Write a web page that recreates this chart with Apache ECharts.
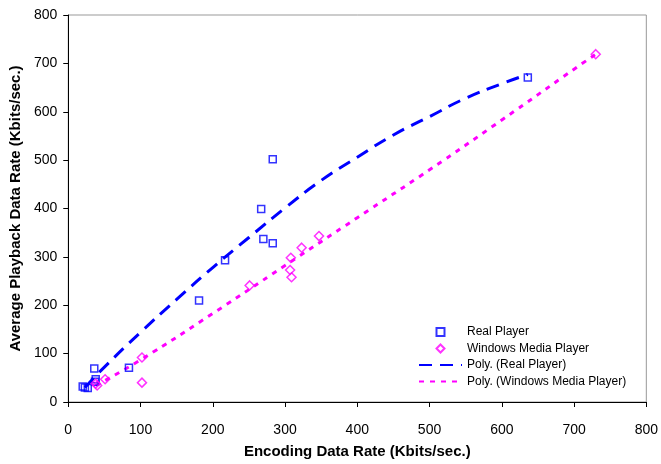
<!DOCTYPE html>
<html>
<head>
<meta charset="utf-8">
<script src="https://cdn.jsdelivr.net/npm/echarts@6/dist/echarts.min.js"></script>
<style>
    html, body { margin: 0; padding: 0; background: #fff; }
    #chart { width: 661px; height: 464px; }
</style>
</head>
<body>
<div id="chart"></div>
<script>
// measured points (encoding rate, playback rate)
let realX = [20, 23, 27, 36, 37, 38, 84, 181, 217, 267, 270, 283, 283, 636]
let realY = [32, 30, 29, 69, 42, 47, 71, 210, 293, 399, 337, 328, 502, 671]

let wmpX = [38, 40, 51, 102, 102, 251, 307, 308, 309, 323, 347, 730]
let wmpY = [38, 34, 47, 92, 40, 241, 273, 298, 258, 319, 343, 719]

// trend lines
let realFitX = [23, 50, 100, 150, 200, 250, 300, 350, 400, 450, 500, 550, 600, 636]
let realFitY = [30, 72, 144, 212, 278, 340, 401, 458, 506, 552, 590, 628, 658, 677]

let wmpFitX = [38, 100, 200, 300, 400, 500, 600, 700, 730]
let wmpFitY = [34, 87, 183, 282, 381, 480, 583, 688, 719]

let xTicks = [0, 100, 200, 300, 400, 500, 600, 700, 800]

function pairs(xs, ys) {
    return xs.map((x, i) => [x, ys[i]])
}

let blue = '#0000ff'
let pink = '#ff00ff'
let font = 'Arial, "Liberation Sans", sans-serif'

let option = {
    animation: false,
    backgroundColor: '#fff',
    grid: {
        left: 61,
        right: 13,
        top: 15,
        bottom: 54,
        show: true,
        borderColor: '#999',
        borderWidth: 1
    },
    legend: {
        orient: 'vertical',
        left: 413,
        top: 321,
        itemWidth: 43,
        itemHeight: 8,
        itemGap: 4.5,
        symbolKeepAspect: true,
        textStyle: { fontFamily: font, fontSize: 12, color: '#000', lineHeight: 12 },
        data: [
            { name: 'Real Player', icon: 'path://M0,0L10,0L10,10L0,10Z' },
            { name: 'Windows Media Player', icon: 'path://M5,0L10,5L5,10L0,5Z' },
            { name: 'Poly. (Real Player)', itemStyle: { opacity: 0 } },
            { name: 'Poly. (Windows Media Player)', itemStyle: { opacity: 0 } }
        ]
    },
    xAxis: {
        type: 'value',
        min: 0,
        max: 800,
        interval: 100,
        name: 'Encoding Data Rate (Kbits/sec.)',
        nameLocation: 'middle',
        nameGap: 42,
        nameTextStyle: { fontFamily: font, fontSize: 15, fontWeight: 'bold', color: '#000' },
        axisLine: { show: true, lineStyle: { color: '#000', width: 1 } },
        axisTick: { show: true, length: 5, lineStyle: { color: '#000' } },
        axisLabel: {
            fontFamily: font, fontSize: 14, color: '#000', margin: 21,
            formatter: v => xTicks.indexOf(v) >= 0 ? String(v) : ''
        },
        splitLine: { show: false }
    },
    yAxis: {
        type: 'value',
        min: 0,
        max: 800,
        interval: 100,
        name: 'Average Playback Data Rate (Kbits/sec.)',
        nameLocation: 'middle',
        nameGap: 43,
        nameTextStyle: { fontFamily: font, fontSize: 15, fontWeight: 'bold', color: '#000' },
        axisLine: { show: true, lineStyle: { color: '#000', width: 1 } },
        axisTick: { show: true, length: 5, lineStyle: { color: '#000' } },
        axisLabel: { fontFamily: font, fontSize: 14, color: '#000', margin: 11 },
        splitLine: { show: false }
    },
    series: [
        {
            name: 'Real Player',
            type: 'scatter',
            symbol: 'rect',
            symbolSize: 7,
            itemStyle: { color: 'rgba(255,255,255,0)', borderColor: blue, borderWidth: 1.5 },
            data: pairs(realX, realY),
            z: 5
        },
        {
            name: 'Windows Media Player',
            type: 'scatter',
            symbol: 'diamond',
            symbolSize: 9,
            itemStyle: { color: 'rgba(255,255,255,0)', borderColor: pink, borderWidth: 1.5 },
            data: pairs(wmpX, wmpY),
            z: 5
        },
        {
            name: 'Poly. (Real Player)',
            type: 'line',
            smooth: true,
            symbol: 'none',
            itemStyle: { color: blue },
            lineStyle: { color: blue, width: 3, type: [13, 8] },
            data: pairs(realFitX, realFitY)
        },
        {
            name: 'Poly. (Windows Media Player)',
            type: 'line',
            smooth: true,
            symbol: 'none',
            itemStyle: { color: pink },
            lineStyle: { color: pink, width: 3, type: [5, 6] },
            data: pairs(wmpFitX, wmpFitY)
        }
    ]
}

let chart = echarts.init(document.getElementById('chart'))
chart.setOption(option)
</script>
</body>
</html>
